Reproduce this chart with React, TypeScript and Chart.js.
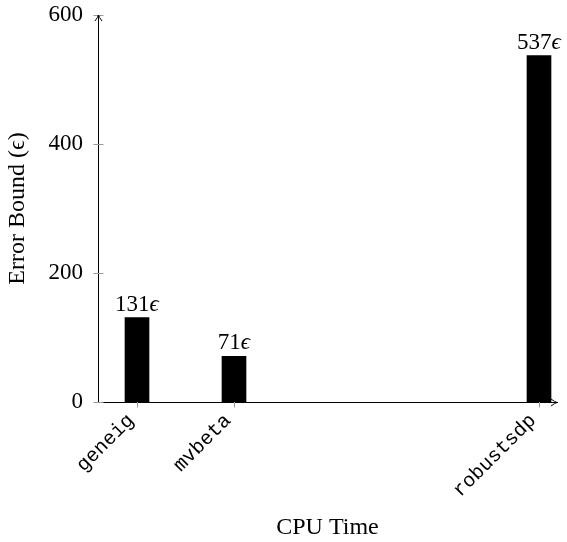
import React, { useEffect, useRef } from 'react';
import { Chart, registerables } from 'chart.js';

Chart.register(...registerables);

const solvers = ['geneig', 'mvbeta', 'robustsdp'];
const cpuTimes = [39, 136, 441];
const errorBounds = [131, 71, 537];
const yTicks = [0, 200, 400, 600];
const xMax = 459;

const serif = "'Liberation Serif', 'DejaVu Serif', serif";
const mono = "'Liberation Mono', 'DejaVu Sans Mono', monospace";

export default function App() {
  const ref = useRef<HTMLCanvasElement>(null);

  useEffect(() => {
    document.body.style.margin = '0';
    const canvas = ref.current;
    if (!canvas) return;

    const axisDecor = {
      id: 'axisDecor',
      beforeDatasetsDraw(chart: any) {
        const { ctx } = chart;
        const xs = chart.scales.x;
        const ys = chart.scales.y;
        ctx.save();
        ctx.strokeStyle = '#9a9a9a';
        ctx.lineWidth = 1;
        ctx.beginPath();
        const lx = Math.round(xs.left) + 0.5;
        for (const v of yTicks) {
          const py = Math.round(ys.getPixelForValue(v)) + 0.5;
          ctx.moveTo(lx - 5, py);
          ctx.lineTo(lx + 5, py);
        }
        const by = Math.round(ys.bottom) + 0.5;
        for (const t of cpuTimes) {
          const px = Math.round(xs.getPixelForValue(t)) + 0.5;
          ctx.moveTo(px, by - 5);
          ctx.lineTo(px, by + 5);
        }
        ctx.stroke();
        ctx.restore();
      },
      afterDatasetsDraw(chart: any) {
        const { ctx } = chart;
        const meta = chart.getDatasetMeta(0);
        ctx.save();
        ctx.fillStyle = '#000';
        ctx.textBaseline = 'alphabetic';
        ctx.textAlign = 'left';
        meta.data.forEach((bar: any, i: number) => {
          const num = String(errorBounds[i]);
          ctx.font = `23px ${serif}`;
          const wn = ctx.measureText(num).width;
          ctx.font = `italic 23px ${serif}`;
          const we = ctx.measureText('ϵ').width;
          const x0 = bar.x - (wn + we) / 2;
          const yb = bar.y - 7;
          ctx.font = `23px ${serif}`;
          ctx.fillText(num, x0, yb);
          ctx.font = `italic 23px ${serif}`;
          ctx.fillText('ϵ', x0 + wn, yb);
        });
        ctx.restore();
      },
      afterDraw(chart: any) {
        const { ctx, chartArea } = chart;
        const lx = Math.round(chartArea.left) + 0.5;
        const ty = Math.round(chartArea.top);
        const by = Math.round(chartArea.bottom) + 0.5;
        const rx = Math.round(chartArea.right);
        ctx.save();
        ctx.strokeStyle = '#000';
        ctx.lineWidth = 1;
        ctx.beginPath();
        ctx.moveTo(lx - 3.5, ty + 6);
        ctx.quadraticCurveTo(lx - 0.5, ty + 2, lx, ty);
        ctx.quadraticCurveTo(lx + 0.5, ty + 2, lx + 3.5, ty + 6);
        ctx.moveTo(rx - 6, by - 3.5);
        ctx.quadraticCurveTo(rx - 2, by - 0.5, rx, by);
        ctx.quadraticCurveTo(rx - 2, by + 0.5, rx - 6, by + 3.5);
        ctx.stroke();
        ctx.restore();
      },
    };

    const chart = new Chart(canvas, {
      type: 'bar',
      data: {
        datasets: [
          {
            data: cpuTimes.map((t, i) => ({ x: t, y: errorBounds[i] })),
            backgroundColor: '#000',
            borderWidth: 0,
            barThickness: 24,
          },
        ],
      },
      options: {
        responsive: false,
        animation: false,
        layout: { padding: { top: 15, right: 10, left: 0, bottom: 0 } },
        plugins: { legend: { display: false }, tooltip: { enabled: false } },
        scales: {
          x: {
            type: 'linear',
            min: 0,
            max: xMax,
            offset: false,
            grid: { display: false, drawTicks: false },
            border: { display: true, color: '#000', width: 1 },
            afterBuildTicks: (s: any) => {
              s.ticks = cpuTimes.map((v) => ({ value: v }));
            },
            afterFit: (s: any) => {
              s.height = 140;
              s.paddingLeft = 0;
              s.paddingRight = 0;
            },
            ticks: {
              autoSkip: false,
              maxRotation: 45,
              minRotation: 45,
              padding: 7,
              labelOffset: -6,
              color: '#000',
              font: { family: mono, size: 20 },
              callback: (_v: any, i: number) => solvers[i],
            },
            title: {
              display: true,
              text: 'CPU Time',
              color: '#000',
              font: { family: serif, size: 24 },
              padding: { top: 0, bottom: 0 },
            },
          },
          y: {
            type: 'linear',
            min: 0,
            max: 600,
            grid: { display: false, drawTicks: false },
            border: { display: true, color: '#000', width: 1 },
            afterFit: (s: any) => {
              s.width = 98;
              s.paddingTop = 0;
              s.paddingBottom = 0;
            },
            ticks: {
              stepSize: 200,
              padding: 15,
              color: '#000',
              font: { family: serif, size: 23 },
            },
            title: {
              display: true,
              text: 'Error Bound (ϵ)',
              color: '#000',
              font: { family: serif, size: 24 },
              padding: { top: 3, bottom: 0 },
            },
          },
        },
      },
      plugins: [axisDecor],
    });

    return () => chart.destroy();
  }, []);

  return <canvas ref={ref} width={567} height={542} style={{ display: 'block' }} />;
}
